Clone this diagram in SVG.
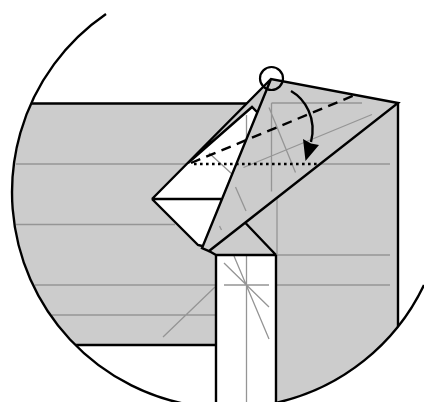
<svg xmlns="http://www.w3.org/2000/svg" width="424" height="402" viewBox="0 0 424 402">
<style>
.o{fill:none;stroke:#000;stroke-width:2.400;stroke-linejoin:miter}
.c{fill:none;stroke:#959595;stroke-width:1.300}
.g{fill:#ccc}
.w{fill:#fff}
</style>
<defs><clipPath id="lens"><circle cx="229" cy="192" r="216"/></clipPath></defs>
<g id="paper" clip-path="url(#lens)">
<path class="g" d="M0 103.500H398V402H277V345H0Z"/>
<path class="w" d="M216 255H276V402H216Z"/>
<path class="g" d="M216 255L245 223L276 255Z"/>
<path class="c" d="M16 164H188M318 164H390M16 224.500H175M276 255H390M35 285H216M276 285H390M52 315H216M163 337L215 287M277 198V255"/>
<path class="c" d="M246.500 255V402M224 285H269M224 263L269 307M234 256L269 339"/>
<path class="o" d="M32 103.500H248M216 345H76M398 102V328M216 255V402M276 255V402M216 255H276M276 255L245 222.500M216 255L209 251"/>
</g>
<g id="model">
<path class="w" d="M152 199L188 163L252 107L257 112L221 199L202 248L198 245Z"/>
<path class="g" d="M271 79L398 103L209 251L202 248Z"/>
<path class="g" d="M152 199L271 79L257 112L252 107L188 163Z"/>
<path class="c" d="M271.500 103H362M271.500 103V191.500M269 107.500L295.500 172.500M243.500 167.500L372 114.500M235.500 187L246 211M219.500 226L221.500 230M245.500 223L253.500 217M246.500 115V140M209 153L232 174"/>
<path class="o" d="M152 199L271 79L398 103L209 251L202 248L271 79M152 199H221M152 199L198 245L202 246M188 163L252 107L257 112"/>
</g>
<g id="connectors">
<path d="M191 163L355 95" fill="none" stroke="#000" stroke-width="2.400" stroke-dasharray="10 6.500"/>
<path d="M194 164H318" fill="none" stroke="#000" stroke-width="2.600" stroke-dasharray="2.600 3.400"/>
<path d="M291 91C305 99 317 118 311 142" fill="none" stroke="#000" stroke-width="2.400"/>
<path d="M305.500 161L303 139L311 143.500L319 145Z" fill="#000"/>
</g>
<g id="marker-circle"><circle cx="271.500" cy="78.500" r="11.500" fill="none" stroke="#000" stroke-width="2.200"/></g>
<g id="lens-outline"><path d="M106 14A216 216 0 0 0 277 402.600M424 285A216 216 0 0 1 277 402.600" fill="none" stroke="#000" stroke-width="2.400"/></g>
</svg>
